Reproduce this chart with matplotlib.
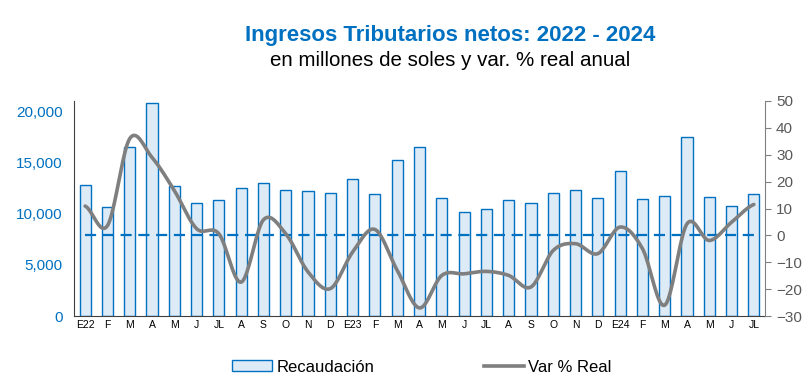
import numpy as np
import matplotlib
matplotlib.use("Agg")
import matplotlib.pyplot as plt
from matplotlib.patches import Patch
from matplotlib.lines import Line2D

plt.rcParams["font.family"] = ["Liberation Sans", "DejaVu Sans"]

meses = ["E22", "F", "M", "A", "M", "J", "JL", "A", "S", "O", "N", "D",
         "E23", "F", "M", "A", "M", "J", "JL", "A", "S", "O", "N", "D",
         "E24", "F", "M", "A", "M", "J", "JL"]
recaudacion = [12750, 10630, 16460, 20850, 12650, 11000, 11290, 12460, 12950, 12260, 12170, 11970,
               13340, 11870, 15190, 16460, 11480, 10120, 10410, 11290, 11000, 11970, 12260, 11480,
               14210, 11380, 11680, 17530, 11580, 10700, 11870]
var_real = [10.9, 3.6, 36.0, 29.0, 16.7, 2.5, 0.6, -17.4, 5.8, 0.6, -13.6, -19.8,
            -6.2, 2.2, -13.0, -27.0, -14.9, -14.3, -13.4, -14.9, -19.2, -5.6, -3.1, -6.8,
            3.1, -4.9, -26.0, 4.3, -1.9, 4.9, 11.5]

AZUL = "#0070C0"
GRIS = "#7F7F7F"


def suavizar(y, n=20):
    # curva tipo Excel (Catmull-Rom) entre puntos consecutivos
    y = np.asarray(y, dtype=float)
    x = np.arange(len(y), dtype=float)
    xs, ys = [], []
    for i in range(len(y) - 1):
        p0 = y[max(i - 1, 0)]
        p1, p2 = y[i], y[i + 1]
        p3 = y[min(i + 2, len(y) - 1)]
        t = np.linspace(0, 1, n, endpoint=False)
        c1 = p1 + (p2 - p0) / 6
        c2 = p2 - (p3 - p1) / 6
        yy = (1 - t) ** 3 * p1 + 3 * (1 - t) ** 2 * t * c1 + 3 * (1 - t) * t ** 2 * c2 + t ** 3 * p2
        xs.append(x[i] + t)
        ys.append(yy)
    xs.append([x[-1]])
    ys.append([y[-1]])
    return np.concatenate(xs), np.concatenate(ys)


fig = plt.figure(figsize=(8.08, 3.84), dpi=100)
ax = fig.add_axes([74 / 808, 1 - 316 / 384, (765 - 74) / 808, (316 - 101) / 384])
x = np.arange(len(meses))

ax.bar(x, recaudacion, width=0.5, color="#DDEBF7", edgecolor=AZUL, linewidth=1.0, zorder=2)
ax.set_xlim(-0.5, len(meses) - 0.5)
ax.set_ylim(0, 21000)
ax.set_yticks(range(0, 20001, 5000))
ax.set_yticklabels([f"{v:,}" for v in range(0, 20001, 5000)], color=AZUL, fontsize=11)
ax.tick_params(axis="y", length=0, pad=8)
ax.set_xticks(x)
ax.set_xticklabels(meses, fontsize=7.5)
ax.tick_params(axis="x", length=0, pad=3)
for s in ["top", "right"]:
    ax.spines[s].set_visible(False)
ax.spines["left"].set_color("#404040")
ax.spines["bottom"].set_color("#404040")

ax2 = ax.twinx()
ax2.plot(x, np.zeros(len(x)), color=AZUL, linestyle=(0, (5, 3)), linewidth=1.6, zorder=3)
xs, ys = suavizar(var_real)
ax2.plot(xs, ys, color=GRIS, linewidth=2.6, solid_capstyle="round", zorder=4)
ax2.set_ylim(-30, 50)
ax2.set_yticks(range(-30, 51, 10))
ax2.tick_params(axis="y", colors="#595959", labelsize=11, length=4, direction="out", pad=4)
ax2.tick_params(axis="y", color="#808080")
for s in ["top", "left", "bottom"]:
    ax2.spines[s].set_visible(False)
ax2.spines["right"].set_color("#808080")

fig.text(0.557, 1 - 35 / 384, "Ingresos Tributarios netos: 2022 - 2024", ha="center", va="center",
         fontsize=16, fontweight="bold", color=AZUL,
         family=["Liberation Sans Narrow", "Liberation Sans", "DejaVu Sans"])
fig.text(0.557, 1 - 60 / 384, "en millones de soles y var. % real anual", ha="center", va="center",
         fontsize=14.8, color="black")

handles = [Patch(facecolor="#DDEBF7", edgecolor=AZUL, linewidth=1.0),
           Line2D([0], [0], color=GRIS, linewidth=2.6)]
fig.legend(handles, ["Recaudación", "Var % Real"], loc="center", bbox_to_anchor=(422 / 808, 1 - 367 / 384),
           ncol=2, frameon=False, fontsize=12, columnspacing=6.6, handlelength=2.4,
           handleheight=0.6, handletextpad=0.25)

fig.savefig("out.png", dpi=100, facecolor="white")
